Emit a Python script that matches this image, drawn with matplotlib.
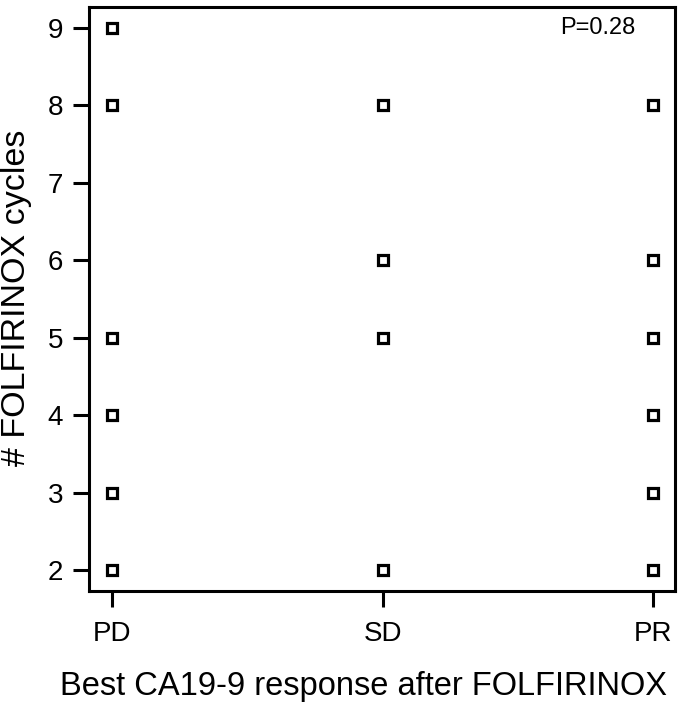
import matplotlib
matplotlib.use('Agg')
import matplotlib.pyplot as plt

plt.rcParams['font.family'] = ['Liberation Sans', 'DejaVu Sans']

# data
categories = ['PD', 'SD', 'PR']
pd_cycles = [9, 8, 5, 4, 3, 2]
sd_cycles = [8, 6, 5, 2]
pr_cycles = [8, 6, 5, 4, 3, 2]
yticks = [2, 3, 4, 5, 6, 7, 8, 9]
p_label = 'P=0.28'

fig = plt.figure(figsize=(6.8, 7.04), dpi=100)
ax = fig.add_axes([89 / 680, 1 - 591 / 704, (675 - 89) / 680, (591 - 7) / 704])

for i, vals in enumerate([pd_cycles, sd_cycles, pr_cycles]):
    ax.plot([i + 1] * len(vals), vals, 's', markersize=6.5,
            markerfacecolor='white', markeredgecolor='black', markeredgewidth=2.3,
            linestyle='none', clip_on=False)

ax.set_xlim(0.915, 3.08)
ax.set_ylim(1.73, 9.27)
ax.set_xticks([1, 2, 3])
ax.set_xticklabels(categories)
ax.set_yticks(yticks)

for s in ax.spines.values():
    s.set_linewidth(2.2)
ax.tick_params(direction='out', length=11.5, width=2.2, labelsize=20)
ax.tick_params(axis='x', pad=10)
ax.tick_params(axis='y', pad=7)

# x label sits a bit left of the axes centre in the reference
fig.text(363 / 680, 1 - 686 / 704, 'Best CA19-9 response after FOLFIRINOX',
         fontsize=23.5, ha='center', va='center')
fig.text(17 / 680, 1 - 298 / 704, '# FOLFIRINOX cycles',
         fontsize=24.5, ha='center', va='center', rotation=90)

ax.text(0.869, 0.964, p_label, transform=ax.transAxes, fontsize=17,
        ha='center', va='center')

fig.savefig('out.png', dpi=100)
